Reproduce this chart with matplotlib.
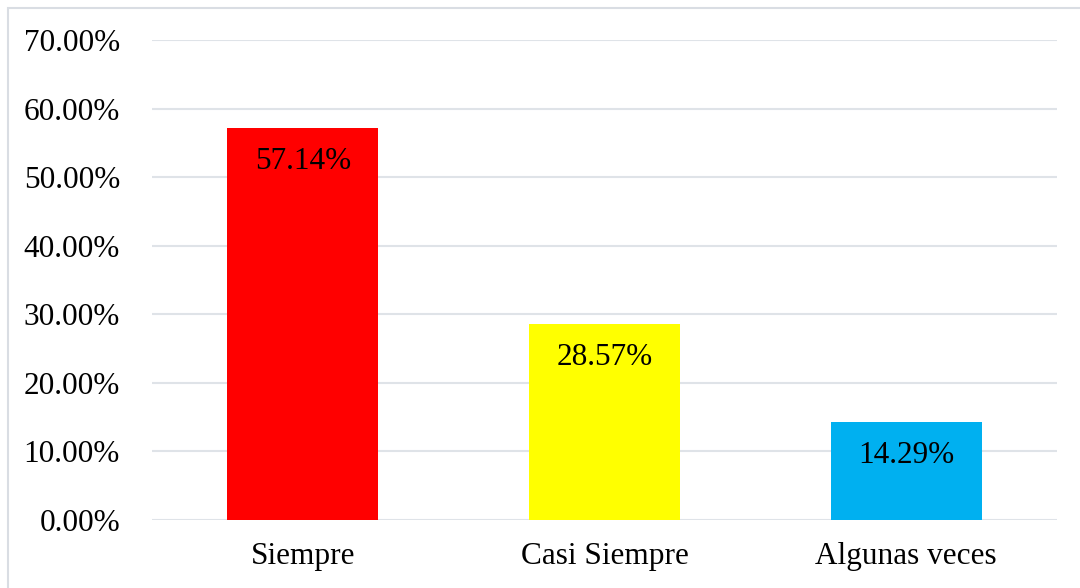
import matplotlib.pyplot as plt
from matplotlib.patches import Rectangle
from matplotlib.ticker import FuncFormatter

categories = ['Siempre', 'Casi Siempre', 'Algunas veces']
values = [57.14, 28.57, 14.29]
colors = ['#FF0000', '#FFFF00', '#00B0F0']

plt.rcParams['font.family'] = ['Liberation Serif', 'DejaVu Serif']

fig = plt.figure(figsize=(10.8, 5.88), dpi=100)
ax = fig.add_axes([152 / 1080, 1 - 520 / 588, 905 / 1080, 480 / 588])

# outer chart frame (right/bottom edges fall outside the picture)
fig.patches.append(Rectangle((8 / 1080, -0.05), 1.1, 1 - 8 / 588 + 0.05,
                             transform=fig.transFigure, fill=False,
                             edgecolor='#D9DDE3', linewidth=1.5))

x = range(len(categories))
bars = ax.bar(x, values, width=0.5, color=colors, zorder=3)

for b, v in zip(bars, values):
    ax.annotate(f'{v:.2f}%', (b.get_x() + b.get_width() / 2, v),
                xytext=(0, -33), textcoords='offset pixels',
                ha='center', va='center', fontsize=22.5, color='black', zorder=4)

ax.set_xlim(-0.5, 2.5)
ax.set_ylim(0, 70)
ax.set_yticks(range(0, 71, 10))
ax.yaxis.set_major_formatter(FuncFormatter(lambda v, p: f'{v:.2f}%'))
ax.set_xticks(list(x))
ax.set_xticklabels(categories)
ax.tick_params(axis='both', length=0, labelsize=22.5, colors='black')
ax.tick_params(axis='y', pad=23)
ax.tick_params(axis='x', pad=16)

ax.grid(axis='y', color='#DFE3E8', linewidth=1.5, zorder=0)
for s in ax.spines.values():
    s.set_visible(False)

fig.savefig('out.png', dpi=100)
